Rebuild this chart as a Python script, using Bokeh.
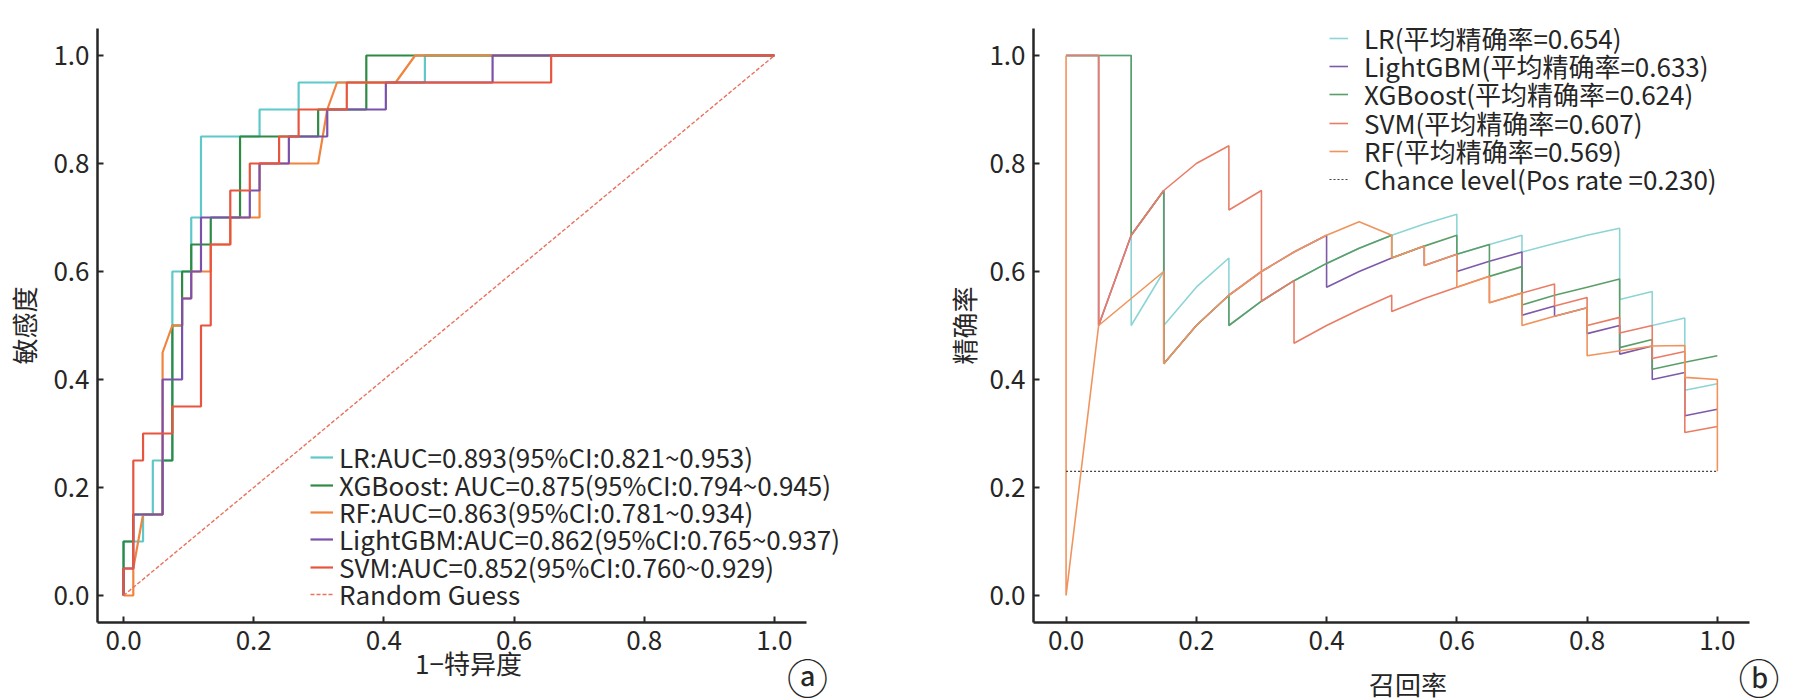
from bokeh.plotting import figure
from bokeh.models import (Range1d, FixedTicker, Legend, LegendItem, LinearAxis,
                          PrintfTickFormatter, CustomJSTickFormatter)
from bokeh.layouts import row
from bokeh.embed import file_html
from bokeh.resources import INLINE

FONT = "Noto Sans CJK SC"
TXT = "#262626"

# ---------------- ROC data (panel a) ----------------
lr_fpr = [0, 0, 0.030, 0.030, 0.045, 0.045, 0.075, 0.075, 0.104, 0.104, 0.119, 0.119, 0.209, 0.209, 0.269, 0.269, 0.463, 0.463, 1.0]
lr_tpr = [0, 0.10, 0.10, 0.15, 0.15, 0.25, 0.25, 0.60, 0.60, 0.70, 0.70, 0.85, 0.85, 0.90, 0.90, 0.95, 0.95, 1.0, 1.0]

xgb_fpr = [0, 0, 0.015, 0.015, 0.060, 0.060, 0.075, 0.075, 0.090, 0.090, 0.104, 0.104, 0.134, 0.134, 0.179, 0.179, 0.299, 0.299, 0.373, 0.373, 1.0]
xgb_tpr = [0, 0.10, 0.10, 0.15, 0.15, 0.25, 0.25, 0.50, 0.50, 0.60, 0.60, 0.65, 0.65, 0.70, 0.70, 0.85, 0.85, 0.90, 0.90, 1.0, 1.0]

rf_fpr = [0, 0.015, 0.015, 0.030, 0.060, 0.060, 0.075, 0.090, 0.090, 0.104, 0.104, 0.134, 0.134, 0.164, 0.164, 0.209, 0.209, 0.299, 0.313, 0.328, 0.418, 0.448, 1.0]
rf_tpr = [0, 0, 0.05, 0.15, 0.15, 0.45, 0.50, 0.50, 0.55, 0.55, 0.60, 0.60, 0.65, 0.65, 0.70, 0.70, 0.80, 0.80, 0.90, 0.95, 0.95, 1.0, 1.0]

lgb_fpr = [0, 0, 0.015, 0.015, 0.060, 0.060, 0.090, 0.090, 0.104, 0.104, 0.119, 0.119, 0.194, 0.194, 0.209, 0.209, 0.254, 0.254, 0.313, 0.313, 0.403, 0.403, 0.567, 0.567, 1.0]
lgb_tpr = [0, 0.05, 0.05, 0.15, 0.15, 0.40, 0.40, 0.55, 0.55, 0.60, 0.60, 0.70, 0.70, 0.75, 0.75, 0.80, 0.80, 0.85, 0.85, 0.90, 0.90, 0.95, 0.95, 1.0, 1.0]

svm_fpr = [0, 0, 0.015, 0.015, 0.030, 0.030, 0.075, 0.075, 0.119, 0.119, 0.134, 0.134, 0.164, 0.164, 0.194, 0.194, 0.239, 0.239, 0.269, 0.269, 0.343, 0.343, 0.657, 0.657, 1.0]
svm_tpr = [0, 0.05, 0.05, 0.25, 0.25, 0.30, 0.30, 0.35, 0.35, 0.50, 0.50, 0.65, 0.65, 0.75, 0.75, 0.80, 0.80, 0.85, 0.85, 0.90, 0.90, 0.95, 0.95, 1.0, 1.0]

guess_x = [0, 1]
guess_y = [0, 1]

roc_labels = [
    "LR:AUC=0.893(95%CI:0.821~0.953)",
    "XGBoost: AUC=0.875(95%CI:0.794~0.945)",
    "RF:AUC=0.863(95%CI:0.781~0.934)",
    "LightGBM:AUC=0.862(95%CI:0.765~0.937)",
    "SVM:AUC=0.852(95%CI:0.760~0.929)",
    "Random Guess",
]

# ---------------- PR data (panel b) ----------------
lr_rec = [0, 0.05, 0.10, 0.10, 0.15, 0.15, 0.20, 0.25, 0.25, 0.30, 0.35, 0.40, 0.45, 0.50, 0.55, 0.60, 0.60, 0.65, 0.70, 0.70, 0.75, 0.80, 0.85, 0.85, 0.90, 0.90, 0.95, 0.95, 1.00]
lr_pre = [1.0, 1.0, 1.0, 0.5, 0.6, 0.5, 0.571, 0.625, 0.5, 0.545, 0.583, 0.615, 0.643, 0.667, 0.688, 0.706, 0.632, 0.65, 0.667, 0.636, 0.652, 0.667, 0.68, 0.548, 0.563, 0.5, 0.514, 0.38, 0.392]

lgb_rec = [0, 0.05, 0.05, 0.10, 0.15, 0.15, 0.20, 0.25, 0.30, 0.35, 0.40, 0.40, 0.45, 0.50, 0.55, 0.55, 0.60, 0.60, 0.65, 0.70, 0.70, 0.75, 0.75, 0.80, 0.80, 0.85, 0.85, 0.90, 0.90, 0.95, 0.95, 1.00]
lgb_pre = [1.0, 1.0, 0.5, 0.667, 0.75, 0.429, 0.5, 0.556, 0.6, 0.636, 0.667, 0.571, 0.6, 0.625, 0.647, 0.611, 0.632, 0.6, 0.619, 0.636, 0.519, 0.536, 0.517, 0.533, 0.485, 0.5, 0.447, 0.462, 0.4, 0.413, 0.333, 0.345]

xgb_rec = [0, 0.05, 0.10, 0.10, 0.15, 0.15, 0.20, 0.25, 0.25, 0.30, 0.35, 0.40, 0.45, 0.50, 0.50, 0.55, 0.60, 0.60, 0.65, 0.65, 0.70, 0.70, 0.75, 0.80, 0.85, 0.85, 0.90, 0.90, 0.95, 1.00]
xgb_pre = [1.0, 1.0, 1.0, 0.667, 0.75, 0.429, 0.5, 0.556, 0.5, 0.545, 0.583, 0.615, 0.643, 0.667, 0.625, 0.647, 0.667, 0.632, 0.65, 0.591, 0.609, 0.538, 0.556, 0.571, 0.586, 0.459, 0.474, 0.419, 0.432, 0.444]

svm_rec = [0, 0.05, 0.05, 0.10, 0.15, 0.20, 0.25, 0.25, 0.30, 0.30, 0.35, 0.35, 0.40, 0.45, 0.50, 0.50, 0.55, 0.60, 0.65, 0.65, 0.70, 0.75, 0.75, 0.80, 0.80, 0.85, 0.85, 0.90, 0.90, 0.95, 0.95, 1.00]
svm_pre = [1.0, 1.0, 0.5, 0.667, 0.75, 0.8, 0.833, 0.714, 0.75, 0.545, 0.583, 0.467, 0.5, 0.529, 0.556, 0.526, 0.55, 0.571, 0.591, 0.542, 0.56, 0.577, 0.536, 0.552, 0.5, 0.515, 0.486, 0.5, 0.439, 0.452, 0.302, 0.313]

rf_rec = [0, 0, 0.05, 0.15, 0.15, 0.20, 0.25, 0.30, 0.35, 0.40, 0.45, 0.50, 0.50, 0.55, 0.55, 0.60, 0.60, 0.65, 0.65, 0.70, 0.70, 0.75, 0.80, 0.80, 0.90, 0.95, 0.95, 1.00, 1.00]
rf_pre = [1.0, 0.0, 0.5, 0.6, 0.429, 0.5, 0.556, 0.6, 0.636, 0.667, 0.692, 0.667, 0.625, 0.647, 0.611, 0.632, 0.571, 0.591, 0.542, 0.56, 0.5, 0.517, 0.533, 0.444, 0.462, 0.463, 0.404, 0.4, 0.23]

chance_x = [0, 1]
chance_y = [0.23, 0.23]

pr_labels = [
    "LR(平均精确率=0.654)",
    "LightGBM(平均精确率=0.633)",
    "XGBoost(平均精确率=0.624)",
    "SVM(平均精确率=0.607)",
    "RF(平均精确率=0.569)",
    "Chance level(Pos rate =0.230)",
]

ticks = [0.0, 0.2, 0.4, 0.6, 0.8, 1.0]

LEG_SIZE = 26
LEG_HALF = 0.725 * LEG_SIZE   # half of the measured legend row height


def base_fig(xlabel, ylabel, x_start, frame_w, min_left, min_right, xlab_standoff,
             ylab_standoff, tag, tag_x, tag_standoff):
    p = figure(frame_width=frame_w, frame_height=594,
               x_range=Range1d(x_start, 1.1), y_range=Range1d(-0.05, 1.05),
               output_backend="svg", toolbar_location=None,
               min_border_left=min_left, min_border_right=min_right,
               min_border_top=28, min_border_bottom=70)
    p.outline_line_color = None
    p.grid.visible = False
    p.background_fill_color = "white"
    p.border_fill_color = "white"
    for ax in (p.xaxis[0], p.yaxis[0]):
        ax.ticker = FixedTicker(ticks=ticks)
        ax.formatter = PrintfTickFormatter(format="%.1f")
        ax.axis_line_width = 2.5
        ax.axis_line_color = TXT
        ax.major_tick_in = 6
        ax.major_tick_out = 0
        ax.major_tick_line_width = 2
        ax.major_tick_line_color = TXT
        ax.minor_tick_line_color = None
        ax.major_label_text_font = FONT
        ax.major_label_text_font_size = "26px"
        ax.major_label_text_color = TXT
        ax.major_label_standoff = 8
        ax.axis_label_text_font = FONT
        ax.axis_label_text_font_size = "26px"
        ax.axis_label_text_font_style = "normal"
        ax.axis_label_text_color = TXT
    p.xaxis[0].bounds = (x_start, 1.05)
    p.xaxis.axis_label = xlabel
    p.yaxis.axis_label = ylabel
    p.xaxis.axis_label_standoff = xlab_standoff
    p.yaxis.axis_label_standoff = ylab_standoff
    # panel tag (circled letter) drawn as the only tick label of a bare extra axis
    tag_ax = LinearAxis(ticker=FixedTicker(ticks=[tag_x]),
                        formatter=CustomJSTickFormatter(code="return '%s';" % tag),
                        axis_line_color=None, major_tick_line_color=None,
                        minor_tick_line_color=None,
                        major_label_text_font=FONT, major_label_text_font_size="41px",
                        major_label_text_color=TXT, major_label_standoff=tag_standoff)
    p.add_layout(tag_ax, "below")
    return p


def add_rows(p, renderers, labels, x, centers, glyph_w, standoff):
    # one single-entry legend per row so that rows sit at the reference spacing
    for r, lab, c in zip(renderers, labels, centers):
        leg = Legend(items=[LegendItem(label=lab, renderers=[r])],
                     location=(x, int(round(c - LEG_HALF))))
        leg.border_line_color = None
        leg.background_fill_alpha = 0
        leg.padding = 0
        leg.margin = 0
        leg.spacing = 0
        leg.glyph_width = glyph_w
        leg.glyph_height = 16
        leg.label_height = 16
        leg.label_standoff = standoff
        leg.label_text_font = FONT
        leg.label_text_font_size = "%dpx" % LEG_SIZE
        leg.label_text_color = TXT
        p.add_layout(leg)


# ---------------- panel a ----------------
p1 = base_fig("1−特异度", "敏感度", -0.04, 742, 97, 3, -9, 8, "ⓐ", 1.051, -44)
roc_series = [
    (lr_fpr, lr_tpr, "#5fc8c8"),
    (xgb_fpr, xgb_tpr, "#2f8a43"),
    (rf_fpr, rf_tpr, "#f0843f"),
    (lgb_fpr, lgb_tpr, "#7b52ab"),
    (svm_fpr, svm_tpr, "#e8553e"),
]
rend1 = []
for xs, ys, col in roc_series:
    rend1.append(p1.line(xs, ys, line_color=col, line_width=2.2))
rend1.append(p1.line(guess_x, guess_y, line_color="#e8735e", line_width=1.4, line_dash="4 2"))
add_rows(p1, rend1, roc_labels, 213, [165.5, 138.2, 110.9, 83.6, 56.3, 29.0], 23, 6)

# ---------------- panel b ----------------
p2 = base_fig("召回率", "精确率", -0.05, 749, 191, 0, 12, 4, "ⓑ", 1.073, -65)
pr_series = [
    (lr_rec, lr_pre, "#8dd5d5"),
    (lgb_rec, lgb_pre, "#7d5aa8"),
    (xgb_rec, xgb_pre, "#5c9e69"),
    (svm_rec, svm_pre, "#ea7c66"),
    (rf_rec, rf_pre, "#f0935c"),
]
rend2 = []
for xs, ys, col in pr_series:
    rend2.append(p2.line(xs, ys, line_color=col, line_width=1.6))
rend2.append(p2.line(chance_x, chance_y, line_color="#444444", line_width=1.2, line_dash="2 2"))
add_rows(p2, rend2, pr_labels, 296, [585, 557, 529, 500, 472, 444], 19, 16)

layout = row(p1, p2)
open("out.html", "w").write(file_html(layout, INLINE))
